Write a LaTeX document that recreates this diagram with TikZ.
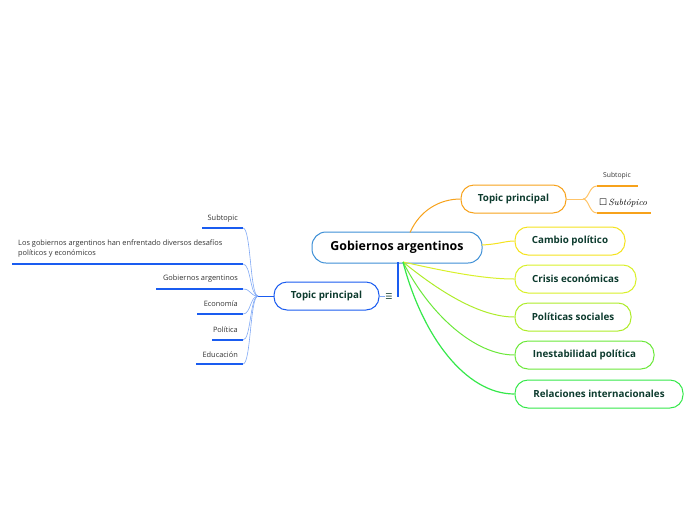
\documentclass[tikz,border=0pt]{standalone}
\usepackage{fontspec}
\setmainfont{Open Sans}
\newfontfamily\symfont{DejaVu Sans}
\newfontfamily\lmfont{Latin Modern Roman}
\definecolor{cblue}{HTML}{3D8FD6}
\definecolor{lblue}{HTML}{1A5CF0}
\definecolor{lbluel}{HTML}{7FA8F5}
\definecolor{corange}{HTML}{F7A21B}
\definecolor{corangel}{HTML}{FFC468}
\definecolor{cyel}{HTML}{F5E31F}
\definecolor{cyg}{HTML}{D9F02A}
\definecolor{clime}{HTML}{AEEC2A}
\definecolor{cgreen}{HTML}{6BE83A}
\definecolor{cgreen2}{HTML}{35E84A}
\definecolor{tgreen}{HTML}{0D3B2E}
\definecolor{stext}{HTML}{333333}
\begin{document}
\begin{tikzpicture}[x=1pt,y=-1pt,
  topic/.style={draw, line width=1pt, rounded corners=13pt, minimum height=28pt, inner sep=0pt, fill=white, text=tgreen, font=\bfseries\fontsize{9.8}{11}\selectfont},
  central/.style={draw=cblue, line width=1pt, rounded corners=14pt, minimum height=31pt, minimum width=170pt, inner sep=0pt, fill=white, text=black, font=\bfseries\fontsize{12.4}{14}\selectfont},
  sub/.style={font=\fontsize{7.4}{10}\selectfont, text=stext, inner sep=0pt},
  conn/.style={line width=1pt},
  uline/.style={line width=2pt}]
\useasboundingbox (0,0) rectangle (696,520);

% central
\node[central] (c) at (397,247.5) {Gobiernos argentinos};

% right topics
\node[topic, draw=corange, minimum width=105pt] (tp) at (513.5,199) {Topic principal};
\node[topic, draw=cyel, minimum width=110pt] (t1) at (570,241) {Cambio político};
\node[topic, draw=cyg, minimum width=121pt] (t2) at (575.5,279) {Crisis económicas};
\node[topic, draw=clime, minimum width=116pt] (t3) at (573,317) {Políticas sociales};
\node[topic, draw=cgreen, minimum width=139pt] (t4) at (584.5,355) {Inestabilidad política};
\node[topic, draw=cgreen2, minimum width=168pt] (t5) at (599,394) {Relaciones internacionales};

% left topic
\node[topic, draw=lblue, minimum width=105pt] (lt) at (326.5,296) {Topic principal};
\node[text=tgreen, inner sep=0pt, font=\symfont\fontsize{8}{9}\selectfont] (menu) at (389,297) {☰};

% connector anchors on central
\coordinate (cTop) at (410,232.5);
\coordinate (cR) at (482,245);
\coordinate (cB) at (403,262);
\coordinate (cBl) at (398,262);
\coordinate (vEnd) at (398,297);

\draw[conn, corange] (cTop) .. controls (420,210) and (440,199) .. (tp.west);
\draw[conn, cyel] (cR) .. controls (500,244) and (505,241) .. (t1.west);
\draw[conn, cyg] (cB) .. controls (440,270) and (480,279) .. (t2.west);
\draw[conn, clime] (cB) .. controls (440,292) and (480,317) .. (t3.west);
\draw[conn, cgreen] (cB) .. controls (430,315) and (475,355) .. (t4.west);
\draw[conn, cgreen2, line width=1.2pt] (cB) .. controls (422,335) and (465,394) .. (t5.west);
\draw[line width=1.2pt, lblue] (cBl) -- (vEnd);
\draw[line width=0.8pt, lbluel] (lt.east) -- ++(5,0);

% top-right subtopics
\coordinate (tpj) at (583,199);
\node[sub, font=\fontsize{6.8}{7}\selectfont] (s1) at (617,176) {Subtopic};
\coordinate (s1a) at (597,186);
\coordinate (s1b) at (638,186);
\node[inner sep=0pt, text=black] (s2) at (623,203) {{\symfont\fontsize{9}{10}\selectfont ☐}\,{\lmfont\itshape\fontsize{9}{10}\selectfont Subtópico}};
\coordinate (s2a) at (597,213);
\coordinate (s2b) at (651,213);
\draw[conn, corangel] (tp.east) -- (tpj);
\draw[conn, corangel] (tpj) .. controls (589,199) and (589,186) .. (s1a);
\draw[conn, corangel] (tpj) .. controls (589,199) and (589,213) .. (s2a);
\draw[uline, corange] (s1a) -- (s1b);
\draw[uline, corange] (s2a) -- (s2b);

% left subtopics
\coordinate (lj) at (258,296);
\draw[conn, lblue] (lt.west) -- (lj);

\node[sub, anchor=east] (l1) at (238,219) {Subtopic};
\node[sub, anchor=west, align=left] (l2) at (18,249) {Los gobiernos argentinos han enfrentado diversos desafíos\\políticos y económicos};
\node[sub, anchor=east] (l3) at (238,279) {Gobiernos argentinos};
\node[sub, anchor=east] (l4) at (238,304) {Economía};
\node[sub, anchor=east] (l5) at (238,330) {Política};
\node[sub, anchor=east] (l6) at (238,355) {Educación};

\foreach \n/\xs/\yy in {1/202/228, 2/12/264, 3/156/289, 4/197/314, 5/212/340, 6/196/364}{
  \coordinate (u\n a) at (\xs,\yy);
  \coordinate (u\n b) at (243,\yy);
  \draw[uline, lblue] (u\n a) -- (u\n b);
  \draw[line width=0.6pt, lbluel] (lj) .. controls (250,296) and (251,\yy) .. (u\n b);
}
\end{tikzpicture}
\end{document}
